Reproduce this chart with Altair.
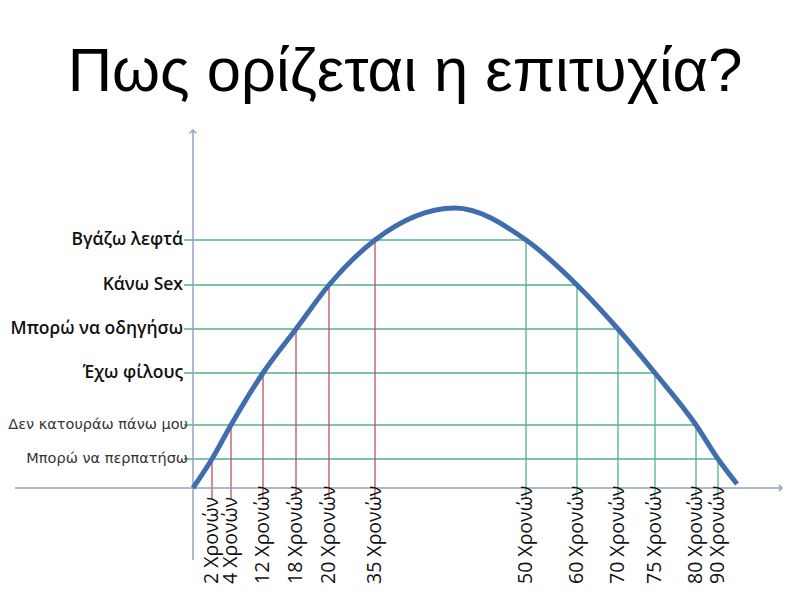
import altair as alt
import pandas as pd

# ---- data ----
title_text = "Πως ορίζεται η επιτυχία?"
level_labels = ["Μπορώ να περπατήσω", "Δεν κατουράω πάνω μου", "Έχω φίλους",
                "Μπορώ να οδηγήσω", "Κάνω Sex", "Βγάζω λεφτά"]
level_values = [29, 63, 115, 159, 203, 248]
level_strong = [False, False, True, True, True, True]

left_ages = ["2 Χρονών", "4 Χρονών", "12 Χρονών", "18 Χρονών", "20 Χρονών", "35 Χρονών"]
left_x = [19, 38, 70, 103, 136, 182]
right_ages = ["50 Χρονών", "60 Χρονών", "70 Χρονών", "75 Χρονών", "80 Χρονών", "90 Χρονών"]
right_x = [333, 384, 425, 462, 503, 525]

peak_x, peak_y = 262, 280
start_xy = (0, 0)
end_xy = (544, 4)

# axis extents (chart units)
x_axis_from, x_axis_to = -178, 589
y_axis_from, y_axis_to = -72, 358
line_start = -9
tick_bottom = -11
age_label_base = -96

# ---- tables ----
curve = pd.DataFrame({
    "x": [start_xy[0]] + left_x + [peak_x] + right_x + [end_xy[0]],
    "y": [start_xy[1]] + level_values + [peak_y] + level_values[::-1] + [end_xy[1]],
})
curve["o"] = range(len(curve))

hlines = pd.DataFrame({
    "x": [line_start] * 6,
    "x2": right_x[::-1],
    "y": level_values,
    "label": level_labels,
    "strong": level_strong,
})

vlines = pd.DataFrame({
    "x": left_x + right_x,
    "y": level_values + level_values[::-1],
    "y2": [tick_bottom] * 12,
    "label": left_ages + right_ages,
    "side": ["left"] * 6 + ["right"] * 6,
})

axes = pd.DataFrame({
    "x": [x_axis_from, 0], "x2": [x_axis_to, 0],
    "y": [0, y_axis_from], "y2": [0, y_axis_to],
})
arrows = pd.DataFrame({"x": [0, x_axis_to], "y": [y_axis_to, 0], "dir": ["up", "right"]})

xs = alt.Scale(domain=[-185, 609], nice=False, zero=False)
ys = alt.Scale(domain=[-97, 363], nice=False, zero=False)
X = lambda f="x": alt.X(f, type="quantitative", scale=xs, axis=None)
Y = lambda f="y": alt.Y(f, type="quantitative", scale=ys, axis=None)

green = "#52B08C"
red = "#C0505A"
axis_col = "#8FA3BD"
curve_col = "#3F6DAD"

h = alt.Chart(hlines).mark_rule(color=green, strokeWidth=1.3).encode(
    x=X(), x2="x2", y=Y())

v = alt.Chart(vlines).mark_rule(strokeWidth=1.3).encode(
    x=X(), y=Y(), y2="y2",
    color=alt.Color("side:N", scale=alt.Scale(domain=["left", "right"], range=[red, green]), legend=None))

ax = alt.Chart(axes).mark_rule(color=axis_col, strokeWidth=1.5).encode(
    x=X(), x2="x2", y=Y(), y2="y2")

up = alt.Chart(arrows[arrows.dir == "up"]).mark_point(
    shape="M-0.6,0.6L0,0L0.6,0.6", filled=False, color=axis_col, size=120, strokeWidth=1.5, opacity=1
).encode(x=X(), y=Y())
right = alt.Chart(arrows[arrows.dir == "right"]).mark_point(
    shape="M-0.6,-0.6L0,0L-0.6,0.6", filled=False, color=axis_col, size=120, strokeWidth=1.5, opacity=1
).encode(x=X(), y=Y())

cv = alt.Chart(curve).mark_line(color=curve_col, strokeWidth=5, interpolate="monotone", strokeCap="butt").encode(
    x=X(), y=Y(), order="o:Q")

strong_lbl = alt.Chart(hlines[hlines.strong]).mark_text(
    align="right", baseline="middle", font="Open Sans", fontSize=17.5, fontWeight=600, color="#111", dx=-1
).encode(x=X(), y=Y(), text="label:N")
weak_lbl = alt.Chart(hlines[~hlines.strong]).mark_text(
    align="right", baseline="middle", font="DejaVu Sans", fontSize=14.5, color="#333", dx=4
).encode(x=X(), y=Y(), text="label:N")

age_lbl = alt.Chart(vlines.assign(base=age_label_base)).mark_text(
    angle=270, align="left", baseline="middle", font="Open Sans", fontSize=19.5, color="#111"
).encode(x=X(), y=Y("base"), text="label:N")

chart = alt.layer(h, v, ax, up, right, cv, strong_lbl, weak_lbl, age_lbl).properties(
    width=794, height=460,
    padding={"top": 117, "left": 0, "right": 0, "bottom": 0},
    autosize=alt.AutoSizeParams(type="none"),
    title=alt.TitleParams(title_text, fontSize=61.5, font="Liberation Sans", fontWeight="normal",
                          anchor="middle", color="#000", offset=22),
).configure_view(stroke=None)

chart.save("out.html", embed_options={"renderer": "svg", "actions": False})
